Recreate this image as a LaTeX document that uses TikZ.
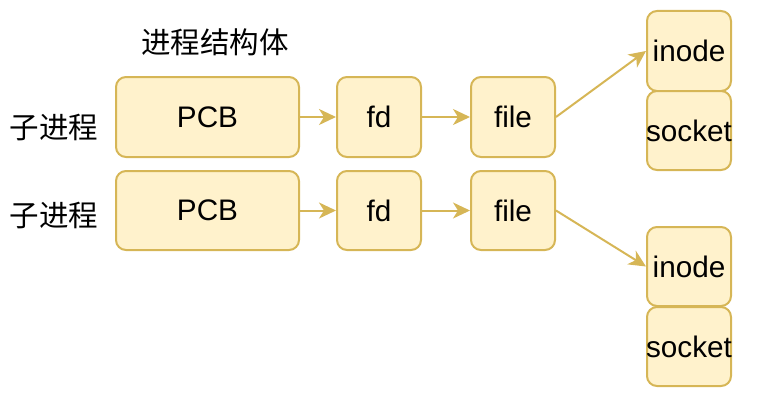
\documentclass[tikz,border=0pt]{standalone}
\usepackage{fontspec}
\setmainfont{Liberation Sans}
\newfontfamily\cjk{Noto Sans CJK SC}
\usetikzlibrary{arrows.meta}
\definecolor{boxfill}{HTML}{FFF2CC}
\definecolor{boxline}{HTML}{D6B656}
\begin{document}
\begin{tikzpicture}[x=1pt,y=-1pt,
  box/.style={draw=boxline,fill=boxfill,line width=2pt,rounded corners=10pt,font=\fontsize{29.7}{32}\selectfont,inner sep=0pt},
  conn/.style={draw=boxline,line width=2pt,-{Stealth[length=17pt,width=16pt,inset=5pt]}},
  lbl/.style={font=\cjk\fontsize{29.5}{32}\selectfont,inner sep=0pt}]
\useasboundingbox (0,0) rectangle (768,404);
\def\bx#1#2#3#4#5#6{\node[box,minimum width=#4pt-#2pt,minimum height=#5pt-#3pt] (#1) at ({(#2+#4)/2},{(#3+#5)/2}) {\makebox[0pt]{#6}};}
\bx{pcbA}{116}{77}{299}{157}{PCB}
\bx{fdA}{337}{77}{421}{157}{fd}
\bx{fileA}{471}{77}{555}{157}{file}
\bx{pcbB}{116}{171}{299}{250}{PCB}
\bx{fdB}{337}{171}{421}{250}{fd}
\bx{fileB}{471}{171}{555}{250}{file}
\bx{inodeA}{647}{11}{731}{91}{inode}
\bx{sockA}{647}{91}{731}{170}{socket}
\bx{inodeB}{647}{227}{731}{306}{inode}
\bx{sockB}{647}{307}{731}{386}{socket}
\node[lbl] (title) at (215,42) {进程结构体};
\node[lbl] (procA) at (54,127) {子进程};
\node[lbl] (procB) at (54,215) {子进程};
\draw[conn] (pcbA) -- (fdA);
\draw[conn] (fdA) -- (fileA);
\draw[conn] (pcbB) -- (fdB);
\draw[conn] (fdB) -- (fileB);
\draw[conn] (fileA.east) -- (inodeA.west);
\draw[conn] (fileB.east) -- (inodeB.west);
\end{tikzpicture}
\end{document}
